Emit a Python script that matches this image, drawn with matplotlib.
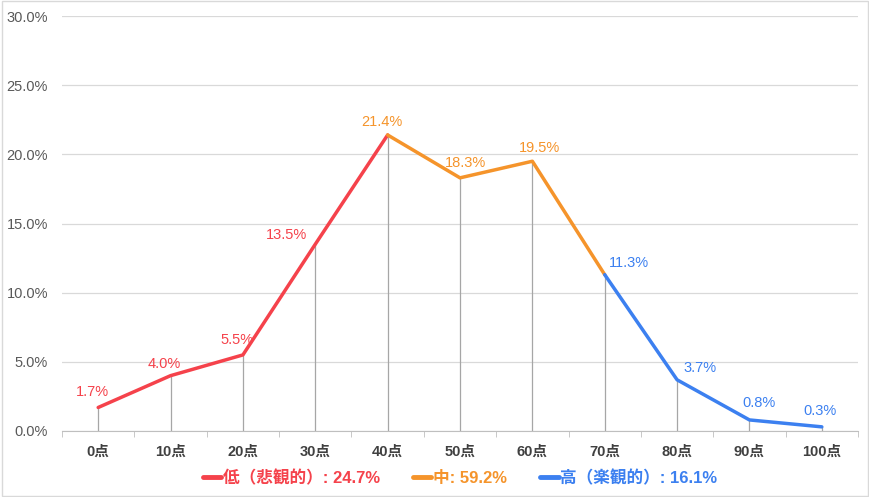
import matplotlib
matplotlib.use('Agg')
import matplotlib.pyplot as plt
from matplotlib.lines import Line2D
from matplotlib.ticker import FuncFormatter, FixedLocator

plt.rcParams['font.family'] = ['Liberation Sans', 'Noto Sans CJK JP', 'DejaVu Sans']

# Data --------------------------------------------------
categories = ['0点', '10点', '20点', '30点', '40点', '50点', '60点', '70点', '80点', '90点', '100点']
values = [1.7, 4.0, 5.5, 13.5, 21.4, 18.3, 19.5, 11.3, 3.7, 0.8, 0.3]
groups = ['low', 'low', 'low', 'low', 'mid', 'mid', 'mid', 'high', 'high', 'high', 'high']
segments = {'low': (0, 4), 'mid': (4, 7), 'high': (7, 10)}
legend_labels = {'low': '低（悲観的）: 24.7%', 'mid': '中: 59.2%', 'high': '高（楽観的）: 16.1%'}
colors = {'low': '#F5424B', 'mid': '#F5942B', 'high': '#3C80F0'}

# label offsets in pixels (dx, dy), label centre relative to the point
label_offsets = [(-6, 15), (-6, 12), (-6, 15), (-29, 9), (-6, 13), (6, 15), (7, 13),
                 (24, 12), (23, 12), (10, 17), (-2, 16)]

fig = plt.figure(figsize=(8.7, 4.97), dpi=100)
ax = fig.add_axes([62 / 870, 66 / 497, 796 / 870, 415 / 497])
x = list(range(len(categories)))

# drop lines
for i, v in enumerate(values):
    ax.plot([i, i], [0, v], color='#A6A6A6', lw=0.9, zorder=2)

for g, (a, b) in segments.items():
    ax.plot(x[a:b + 1], values[a:b + 1], color=colors[g], lw=2.5,
            solid_capstyle='round', solid_joinstyle='round', zorder=3)

for i, v in enumerate(values):
    dx, dy = label_offsets[i]
    ax.annotate(f'{v:.1f}%', (i, v), xytext=(dx * 0.72, dy * 0.72), textcoords='offset points',
                ha='center', va='center', fontsize=10.5, color=colors[groups[i]])

ax.set_xlim(-0.5, len(categories) - 0.5)
ax.set_ylim(0, 30)
ax.yaxis.set_major_locator(FixedLocator([0, 5, 10, 15, 20, 25, 30]))
ax.yaxis.set_major_formatter(FuncFormatter(lambda v, p: f'{v:.1f}%'))
ax.grid(axis='y', color='#D9D9D9', lw=0.9, zorder=0)
ax.set_axisbelow(True)
ax.tick_params(axis='y', length=0, labelsize=10.5, labelcolor='#595959', pad=10)

ax.set_xticks(x)
ax.set_xticklabels(categories, fontsize=10.5, fontweight='bold', color='#404040')
ax.tick_params(axis='x', length=0, pad=10)
ax.set_xticks([i - 0.5 for i in range(len(categories) + 1)], minor=True)
ax.tick_params(axis='x', which='minor', length=4, color='#BFBFBF', direction='out')

for s in ['top', 'right', 'left']:
    ax.spines[s].set_visible(False)
ax.spines['bottom'].set_color('#BFBFBF')

handles = [Line2D([0], [0], color=colors[g], lw=3.5, solid_capstyle='round') for g in segments]
leg = fig.legend(handles, [legend_labels[g] for g in segments], loc='lower center',
                 bbox_to_anchor=(460 / 870, -0.008), ncol=3, frameon=False, fontsize=12,
                 handlelength=1.1, handletextpad=0.1, columnspacing=2.0)
for t, g in zip(leg.get_texts(), segments):
    t.set_color(colors[g])
    t.set_fontweight('bold')

fig.patches.append(plt.Rectangle((0.002, 0.003), 0.996, 0.994, transform=fig.transFigure,
                                 fill=False, edgecolor='#D9D9D9', lw=1))

fig.savefig('out.png', dpi=100)
